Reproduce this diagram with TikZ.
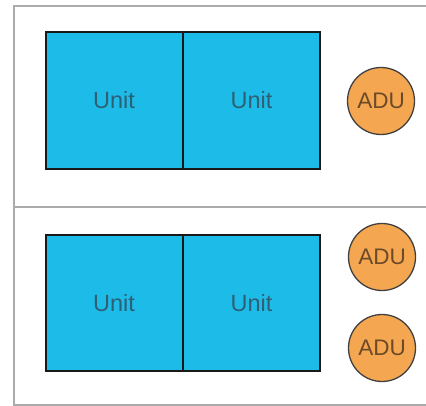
\documentclass[tikz,border=0pt]{standalone}
\usepackage{fontspec}
\setmainfont{Liberation Sans}
\definecolor{unitblue}{HTML}{1DBCE8}
\definecolor{aduorange}{HTML}{F5A650}
\definecolor{framegray}{HTML}{ABABAB}
\definecolor{unittext}{HTML}{2E5F74}
\definecolor{adutext}{HTML}{6A4A28}
\begin{document}
\begin{tikzpicture}[x=1pt,y=-1pt,
  unitbox/.style={draw=black!90,line width=2pt,fill=unitblue,minimum width=137pt,minimum height=137pt,inner sep=0pt,
    font=\fontsize{23.5}{27}\selectfont,text=unittext},
  adu/.style={circle,draw=black!75,line width=1.3pt,fill=aduorange,minimum size=67pt,inner sep=0pt,
    font=\fontsize{22.5}{26}\selectfont,text=adutext},
  frameline/.style={draw=framegray,line width=1.2pt}]
\useasboundingbox (0,0) rectangle (426,406);
% frame
\coordinate (tl) at (14,6);
\coordinate (tr) at (427,6);
\coordinate (ml) at (14,207);
\coordinate (mr) at (427,207);
\coordinate (bl) at (14,405);
\coordinate (br) at (427,405);
\draw[frameline] (tr) -- (tl) -- (bl) -- (br);
\draw[frameline] (ml) -- (mr);
% top section
\node[unitbox] (u1) at (114,100.5) {Unit};
\node[unitbox] (u2) at (251.5,100.5) {Unit};
\node[adu] (a1) at (381,101) {ADU};
% bottom section
\node[unitbox,minimum height=136pt] (u3) at (114,303) {Unit};
\node[unitbox,minimum height=136pt] (u4) at (251.5,303) {Unit};
\node[adu] (a2) at (382,257) {ADU};
\node[adu] (a3) at (382,348) {ADU};
\end{tikzpicture}
\end{document}
